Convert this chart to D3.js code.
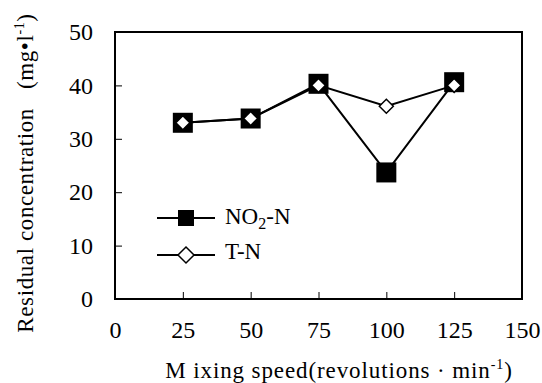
<!DOCTYPE html>
<html><head><meta charset="utf-8">
<script src="https://cdn.jsdelivr.net/npm/d3@7"></script>
<style>body{margin:0;background:#fff}svg{display:block}text{font-family:"Liberation Serif","Times New Roman",serif;fill:#000}</style>
</head><body><svg id="c" width="542" height="383"></svg>
<script>
const speeds = [25, 50, 75, 100, 125];
const no2n = [33.0, 33.8, 40.3, 23.7, 40.6];
const tn = [33.0, 33.8, 40.0, 36.1, 40.0];
const xTicks = [0, 25, 50, 75, 100, 125, 150];
const yTicks = [0, 10, 20, 30, 40, 50];

const svg = d3.select("#c");
const L = 115, R = 522, T = 32, B = 299;
const x = d3.scaleLinear().domain([0, 150]).range([L, R]);
const y = d3.scaleLinear().domain([0, 50]).range([B, T]);
const FONT = '"Liberation Serif","Times New Roman",serif';

const xa = svg.append("g").attr("transform", `translate(0,${B})`)
  .call(d3.axisBottom(x).tickValues(xTicks).tickSizeInner(-7).tickSizeOuter(0).tickPadding(22));
const ya = svg.append("g").attr("transform", `translate(${L},0)`)
  .call(d3.axisLeft(y).tickValues(yTicks).tickSizeInner(-7).tickSizeOuter(0).tickPadding(22));
[xa, ya].forEach(a => {
  a.attr("font-family", FONT).attr("font-size", 24);
  a.select(".domain").remove();
  a.selectAll("line").attr("stroke", "#000").attr("stroke-width", 1);
  a.selectAll("text").attr("fill", "#000");
});
xa.selectAll(".tick").filter(d => d === 0 || d === 150).select("line").remove();
ya.selectAll(".tick").filter(d => d === 0 || d === 50).select("line").remove();

svg.append("rect").attr("x", L).attr("y", T).attr("width", R - L).attr("height", B - T)
  .attr("fill", "none").attr("stroke", "#000").attr("stroke-width", 2);

const line = d3.line().x((d, i) => x(speeds[i])).y(d => y(d));
svg.append("path").datum(no2n).attr("d", line).attr("fill", "none").attr("stroke", "#000").attr("stroke-width", 2);
svg.append("path").datum(tn).attr("d", line).attr("fill", "none").attr("stroke", "#000").attr("stroke-width", 2);

const sq = 20, dm = 7;
svg.selectAll("rect.sq").data(no2n).join("rect").attr("class", "sq")
  .attr("x", (d, i) => x(speeds[i]) - sq / 2).attr("y", d => y(d) - sq / 2)
  .attr("width", sq).attr("height", sq).attr("fill", "#000");
const diamond = (cx, cy, r) => `M${cx},${cy - r}L${cx + r},${cy}L${cx},${cy + r}L${cx - r},${cy}Z`;
svg.selectAll("path.dm").data(tn).join("path").attr("class", "dm")
  .attr("d", (d, i) => diamond(x(speeds[i]), y(d), dm))
  .attr("fill", "#fff").attr("stroke", "#000").attr("stroke-width", 1.5);

// legend
const lg = svg.append("g");
const ly1 = 218, ly2 = 255, lx1 = 157, lx2 = 215, lc = 186;
[ly1, ly2].forEach(ly => lg.append("line").attr("x1", lx1).attr("x2", lx2).attr("y1", ly).attr("y2", ly).attr("stroke", "#000").attr("stroke-width", 2));
lg.append("rect").attr("x", lc - 8).attr("y", ly1 - 8).attr("width", 16).attr("height", 16).attr("fill", "#000");
lg.append("path").attr("d", diamond(lc, ly2, 8)).attr("fill", "#fff").attr("stroke", "#000").attr("stroke-width", 1.5);
const t1 = lg.append("text").attr("x", 225).attr("y", 224).attr("font-size", 23);
t1.append("tspan").text("NO");
t1.append("tspan").attr("font-size", 16).attr("dy", 5).text("2");
t1.append("tspan").attr("dy", -5).text("-N");
lg.append("text").attr("x", 225).attr("y", 259).attr("font-size", 23).text("T-N");

// axis titles
const xt = svg.append("text").attr("x", 339).attr("y", 378).attr("text-anchor", "middle").attr("font-size", 23).attr("letter-spacing", 0.9);
xt.append("tspan").text("M ixing speed(revolutions\u00a0·\u00a0min");
xt.append("tspan").attr("font-size", 14).attr("dy", -9).text("-1");
xt.append("tspan").attr("dy", 9).text(")");

const yt = svg.append("text").attr("transform", "translate(33,173) rotate(-90)").attr("text-anchor", "middle").attr("font-size", 23).attr("letter-spacing", 0.6);
yt.append("tspan").text("Residual concentration\u00a0\u00a0\u00a0(mg•l");
yt.append("tspan").attr("font-size", 14).attr("dy", -9).text("-1");
yt.append("tspan").attr("dy", 9).text(")");
</script></body></html>
